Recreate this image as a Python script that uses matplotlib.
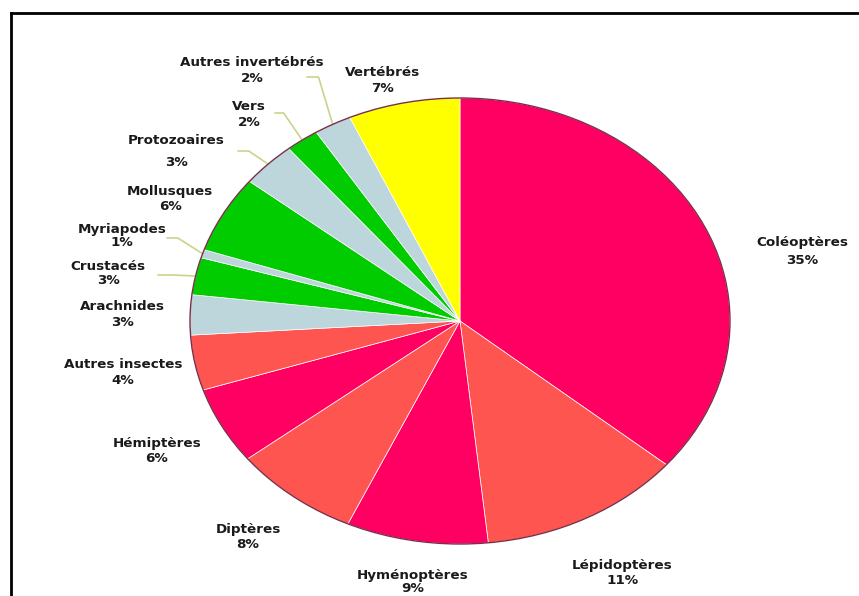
import numpy as np
import matplotlib
matplotlib.use("Agg")
import matplotlib.pyplot as plt
from matplotlib.patches import Circle
from matplotlib.lines import Line2D

# data, clockwise from the top
groups = ["Coléoptères", "Lépidoptères", "Hyménoptères", "Diptères", "Hémiptères",
          "Autres insectes", "Arachnides", "Crustacés", "Myriapodes", "Mollusques",
          "Protozoaires", "Vers", "Autres invertébrés", "Vertébrés"]
# printed (rounded) percentages
percents = [35, 11, 9, 8, 6, 4, 3, 3, 1, 6, 3, 2, 2, 7]
# slice sizes as drawn
shares = [36.2, 12.2, 8.5, 7.6, 5.6, 4.0, 2.9, 2.7, 0.6, 5.6, 3.3, 2.0, 2.25, 6.7]

CRIMSON = "#ff0062"
SALMON = "#ff5550"
BLUE = "#bcd6dc"
GREEN = "#00cc00"
YELLOW = "#ffff00"
colors = [CRIMSON, SALMON, CRIMSON, SALMON, CRIMSON, SALMON, BLUE, GREEN,
          BLUE, GREEN, BLUE, GREEN, BLUE, YELLOW]

# label layout in pixels (x centre, y of name, y of percent)
label_px = {
    "Coléoptères": (802, 243, 261),
    "Lépidoptères": (622, 565, 580),
    "Hyménoptères": (413, 576, 589),
    "Diptères": (248, 529, 545),
    "Hémiptères": (157, 443, 459),
    "Autres insectes": (123, 365, 380),
    "Arachnides": (122, 307, 323),
    "Crustacés": (108, 266, 281),
    "Myriapodes": (122, 229, 243),
    "Mollusques": (170, 192, 207),
    "Protozoaires": (176, 140, 162),
    "Vers": (249, 107, 122),
    "Autres invertébrés": (252, 63, 78),
    "Vertébrés": (383, 73, 88),
}
# leader lines: start point (px) and horizontal arm length (px)
leaders = {
    "Autres invertébrés": (307, 77, 16),
    "Vers": (275, 113, 12),
    "Protozoaires": (238, 151, 15),
    "Myriapodes": (167, 238, 15),
    "Crustacés": (158, 275, 22),
}

W, H = 859, 596
fig = plt.figure(figsize=(W / 100, H / 100), dpi=100)
fig.patch.set_facecolor("white")


def fpos(x, y):
    return x / W, 1 - y / H


ax = fig.add_axes([0, 0, 1, 1])
wedges, _ = ax.pie(shares, colors=colors, startangle=90, counterclock=False,
                   wedgeprops=dict(edgecolor="white", linewidth=0.5))
ax.set_aspect("auto")
cx, cy, rx, ry = 460, 321, 270, 223
ax.set_xlim(-cx / rx, (W - cx) / rx)
ax.set_ylim(-(H - cy) / ry, cy / ry)
ax.axis("off")
ax.add_patch(Circle((0, 0), 1, fill=False, edgecolor="#7a3048", lw=1.0, zorder=5))

for name, pct in zip(groups, percents):
    x, yn, yp = label_px[name]
    fig.text(*fpos(x, yn), name, ha="center", va="center", fontsize=9.7,
             fontweight="bold", color="#1a1a1a", family="DejaVu Sans")
    fig.text(*fpos(x, yp), f"{pct}%", ha="center", va="center", fontsize=9.7,
             fontweight="bold", color="#1a1a1a", family="DejaVu Sans")

for w, name in zip(wedges, groups):
    if name not in leaders:
        continue
    sx, sy, arm = leaders[name]
    mid = np.deg2rad((w.theta1 + w.theta2) / 2)
    ax.annotate("", xy=(np.cos(mid), np.sin(mid)), xycoords="data",
                xytext=fpos(sx, sy), textcoords="figure fraction",
                arrowprops=dict(arrowstyle="-", color="#c8d48c", lw=1.2,
                                shrinkA=0, shrinkB=0,
                                connectionstyle=f"arc,angleA=0,angleB=0,armA={arm * 0.72},armB=0,rad=0"))

# frame around the picture
fig.add_artist(Line2D([11 / W, 11 / W], [1 - 13 / H, 0], transform=fig.transFigure,
                      color="black", lw=2))
fig.add_artist(Line2D([11 / W, 1], [1 - 13 / H, 1 - 13 / H], transform=fig.transFigure,
                      color="black", lw=2))

fig.savefig("out.png", dpi=100, facecolor="white")
